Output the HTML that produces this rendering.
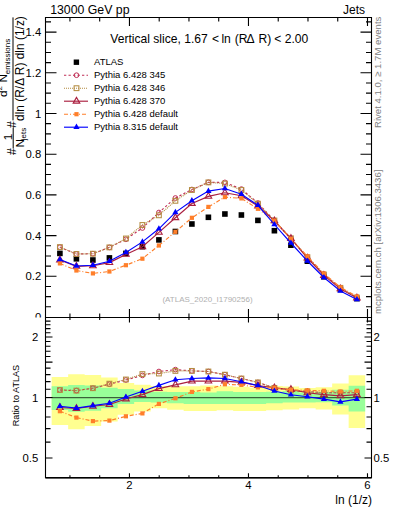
<!DOCTYPE html><html><head><meta charset="utf-8"><style>html,body{margin:0;padding:0;background:#fff;overflow:hidden}svg,svg text{font-family:"Liberation Sans",sans-serif}</style></head><body><svg width="393" height="512" viewBox="0 0 393 512" style="display:block">
<rect width="393" height="512" fill="#fff"/>
<text x="50.2" y="13.7" font-size="12.3" >13000 GeV pp</text>
<text x="365" y="13.7" font-size="12" text-anchor="end" >Jets</text>
<text x="41.3" y="36.20" font-size="11.3" text-anchor="end" >1.4</text>
<text x="41.3" y="76.90" font-size="11.3" text-anchor="end" >1.2</text>
<text x="41.3" y="117.60" font-size="11.3" text-anchor="end" >1</text>
<text x="41.3" y="158.30" font-size="11.3" text-anchor="end" >0.8</text>
<text x="41.3" y="199.00" font-size="11.3" text-anchor="end" >0.6</text>
<text x="41.3" y="239.70" font-size="11.3" text-anchor="end" >0.4</text>
<text x="41.3" y="280.40" font-size="11.3" text-anchor="end" >0.2</text>
<text x="41.3" y="321.10" font-size="11.3" text-anchor="end" >0</text>
<g>
<rect x="57.10" y="250.60" width="5.6" height="5.6" fill="#000"/>
<rect x="73.60" y="256.00" width="5.6" height="5.6" fill="#000"/>
<rect x="90.10" y="257.20" width="5.6" height="5.6" fill="#000"/>
<rect x="106.60" y="255.10" width="5.6" height="5.6" fill="#000"/>
<rect x="123.10" y="250.60" width="5.6" height="5.6" fill="#000"/>
<rect x="139.60" y="243.90" width="5.6" height="5.6" fill="#000"/>
<rect x="156.10" y="237.10" width="5.6" height="5.6" fill="#000"/>
<rect x="172.60" y="228.70" width="5.6" height="5.6" fill="#000"/>
<rect x="189.10" y="221.20" width="5.6" height="5.6" fill="#000"/>
<rect x="205.60" y="214.50" width="5.6" height="5.6" fill="#000"/>
<rect x="222.10" y="211.20" width="5.6" height="5.6" fill="#000"/>
<rect x="238.60" y="212.20" width="5.6" height="5.6" fill="#000"/>
<rect x="255.10" y="217.60" width="5.6" height="5.6" fill="#000"/>
<rect x="271.60" y="227.90" width="5.6" height="5.6" fill="#000"/>
<rect x="288.10" y="242.40" width="5.6" height="5.6" fill="#000"/>
<rect x="304.60" y="258.40" width="5.6" height="5.6" fill="#000"/>
<rect x="321.10" y="274.00" width="5.6" height="5.6" fill="#000"/>
<rect x="337.60" y="286.60" width="5.6" height="5.6" fill="#000"/>
<rect x="354.10" y="295.80" width="5.6" height="5.6" fill="#000"/>
<polyline points="59.90,247.20 76.40,254.00 92.90,253.70 109.40,247.40 125.90,239.30 142.40,228.00 158.90,212.50 175.40,198.00 191.90,189.50 208.40,182.30 224.90,182.40 241.40,189.10 257.90,203.00 274.40,220.67 290.90,239.12 307.40,257.23 323.90,274.53 340.40,287.84 356.90,297.56" fill="none" stroke="#c02d55" stroke-width="1.15" stroke-dasharray="2.3,2.2"/>
<circle cx="59.90" cy="247.20" r="2.35" fill="none" stroke="#c02d55" stroke-width="1.0"/>
<circle cx="76.40" cy="254.00" r="2.35" fill="none" stroke="#c02d55" stroke-width="1.0"/>
<circle cx="92.90" cy="253.70" r="2.35" fill="none" stroke="#c02d55" stroke-width="1.0"/>
<circle cx="109.40" cy="247.40" r="2.35" fill="none" stroke="#c02d55" stroke-width="1.0"/>
<circle cx="125.90" cy="239.30" r="2.35" fill="none" stroke="#c02d55" stroke-width="1.0"/>
<circle cx="142.40" cy="228.00" r="2.35" fill="none" stroke="#c02d55" stroke-width="1.0"/>
<circle cx="158.90" cy="212.50" r="2.35" fill="none" stroke="#c02d55" stroke-width="1.0"/>
<circle cx="175.40" cy="198.00" r="2.35" fill="none" stroke="#c02d55" stroke-width="1.0"/>
<circle cx="191.90" cy="189.50" r="2.35" fill="none" stroke="#c02d55" stroke-width="1.0"/>
<circle cx="208.40" cy="182.30" r="2.35" fill="none" stroke="#c02d55" stroke-width="1.0"/>
<circle cx="224.90" cy="182.40" r="2.35" fill="none" stroke="#c02d55" stroke-width="1.0"/>
<circle cx="241.40" cy="189.10" r="2.35" fill="none" stroke="#c02d55" stroke-width="1.0"/>
<circle cx="257.90" cy="203.00" r="2.35" fill="none" stroke="#c02d55" stroke-width="1.0"/>
<circle cx="274.40" cy="220.67" r="2.35" fill="none" stroke="#c02d55" stroke-width="1.0"/>
<circle cx="290.90" cy="239.12" r="2.35" fill="none" stroke="#c02d55" stroke-width="1.0"/>
<circle cx="307.40" cy="257.23" r="2.35" fill="none" stroke="#c02d55" stroke-width="1.0"/>
<circle cx="323.90" cy="274.53" r="2.35" fill="none" stroke="#c02d55" stroke-width="1.0"/>
<circle cx="340.40" cy="287.84" r="2.35" fill="none" stroke="#c02d55" stroke-width="1.0"/>
<circle cx="356.90" cy="297.56" r="2.35" fill="none" stroke="#c02d55" stroke-width="1.0"/>
<polyline points="59.90,247.10 76.40,254.00 92.90,253.70 109.40,247.40 125.90,238.50 142.40,225.00 158.90,215.30 175.40,200.80 191.90,190.00 208.40,182.40 224.90,183.60 241.40,190.00 257.90,203.70 274.40,220.50 290.90,238.30 307.40,257.23 323.90,274.53 340.40,287.84 356.90,297.56" fill="none" stroke="#b48c40" stroke-width="1.15" stroke-dasharray="1,1"/>
<rect x="57.50" y="244.70" width="4.8" height="4.8" fill="none" stroke="#b48c40" stroke-width="1.05"/>
<rect x="74.00" y="251.60" width="4.8" height="4.8" fill="none" stroke="#b48c40" stroke-width="1.05"/>
<rect x="90.50" y="251.30" width="4.8" height="4.8" fill="none" stroke="#b48c40" stroke-width="1.05"/>
<rect x="107.00" y="245.00" width="4.8" height="4.8" fill="none" stroke="#b48c40" stroke-width="1.05"/>
<rect x="123.50" y="236.10" width="4.8" height="4.8" fill="none" stroke="#b48c40" stroke-width="1.05"/>
<rect x="140.00" y="222.60" width="4.8" height="4.8" fill="none" stroke="#b48c40" stroke-width="1.05"/>
<rect x="156.50" y="212.90" width="4.8" height="4.8" fill="none" stroke="#b48c40" stroke-width="1.05"/>
<rect x="173.00" y="198.40" width="4.8" height="4.8" fill="none" stroke="#b48c40" stroke-width="1.05"/>
<rect x="189.50" y="187.60" width="4.8" height="4.8" fill="none" stroke="#b48c40" stroke-width="1.05"/>
<rect x="206.00" y="180.00" width="4.8" height="4.8" fill="none" stroke="#b48c40" stroke-width="1.05"/>
<rect x="222.50" y="181.20" width="4.8" height="4.8" fill="none" stroke="#b48c40" stroke-width="1.05"/>
<rect x="239.00" y="187.60" width="4.8" height="4.8" fill="none" stroke="#b48c40" stroke-width="1.05"/>
<rect x="255.50" y="201.30" width="4.8" height="4.8" fill="none" stroke="#b48c40" stroke-width="1.05"/>
<rect x="272.00" y="218.10" width="4.8" height="4.8" fill="none" stroke="#b48c40" stroke-width="1.05"/>
<rect x="288.50" y="235.90" width="4.8" height="4.8" fill="none" stroke="#b48c40" stroke-width="1.05"/>
<rect x="305.00" y="254.83" width="4.8" height="4.8" fill="none" stroke="#b48c40" stroke-width="1.05"/>
<rect x="321.50" y="272.13" width="4.8" height="4.8" fill="none" stroke="#b48c40" stroke-width="1.05"/>
<rect x="338.00" y="285.44" width="4.8" height="4.8" fill="none" stroke="#b48c40" stroke-width="1.05"/>
<rect x="354.50" y="295.16" width="4.8" height="4.8" fill="none" stroke="#b48c40" stroke-width="1.05"/>
<polyline points="59.90,260.00 76.40,266.30 92.90,265.80 109.40,262.60 125.90,254.40 142.40,246.80 158.90,232.40 175.40,217.70 191.90,203.50 208.40,196.40 224.90,192.80 241.40,195.80 257.90,206.00 274.40,220.80 290.90,238.50 307.40,258.11 323.90,275.44 340.40,288.89 356.90,297.98" fill="none" stroke="#aa1f3f" stroke-width="1.15"/>
<polygon points="59.90,256.19 56.60,261.91 63.20,261.91" fill="none" stroke="#aa1f3f" stroke-width="1.1"/>
<polygon points="76.40,262.49 73.10,268.21 79.70,268.21" fill="none" stroke="#aa1f3f" stroke-width="1.1"/>
<polygon points="92.90,261.99 89.60,267.71 96.20,267.71" fill="none" stroke="#aa1f3f" stroke-width="1.1"/>
<polygon points="109.40,258.79 106.10,264.51 112.70,264.51" fill="none" stroke="#aa1f3f" stroke-width="1.1"/>
<polygon points="125.90,250.59 122.60,256.31 129.20,256.31" fill="none" stroke="#aa1f3f" stroke-width="1.1"/>
<polygon points="142.40,242.99 139.10,248.71 145.70,248.71" fill="none" stroke="#aa1f3f" stroke-width="1.1"/>
<polygon points="158.90,228.59 155.60,234.31 162.20,234.31" fill="none" stroke="#aa1f3f" stroke-width="1.1"/>
<polygon points="175.40,213.89 172.10,219.61 178.70,219.61" fill="none" stroke="#aa1f3f" stroke-width="1.1"/>
<polygon points="191.90,199.69 188.60,205.41 195.20,205.41" fill="none" stroke="#aa1f3f" stroke-width="1.1"/>
<polygon points="208.40,192.59 205.10,198.31 211.70,198.31" fill="none" stroke="#aa1f3f" stroke-width="1.1"/>
<polygon points="224.90,188.99 221.60,194.71 228.20,194.71" fill="none" stroke="#aa1f3f" stroke-width="1.1"/>
<polygon points="241.40,191.99 238.10,197.71 244.70,197.71" fill="none" stroke="#aa1f3f" stroke-width="1.1"/>
<polygon points="257.90,202.19 254.60,207.91 261.20,207.91" fill="none" stroke="#aa1f3f" stroke-width="1.1"/>
<polygon points="274.40,216.99 271.10,222.71 277.70,222.71" fill="none" stroke="#aa1f3f" stroke-width="1.1"/>
<polygon points="290.90,234.69 287.60,240.41 294.20,240.41" fill="none" stroke="#aa1f3f" stroke-width="1.1"/>
<polygon points="307.40,254.30 304.10,260.02 310.70,260.02" fill="none" stroke="#aa1f3f" stroke-width="1.1"/>
<polygon points="323.90,271.63 320.60,277.35 327.20,277.35" fill="none" stroke="#aa1f3f" stroke-width="1.1"/>
<polygon points="340.40,285.08 337.10,290.79 343.70,290.79" fill="none" stroke="#aa1f3f" stroke-width="1.1"/>
<polygon points="356.90,294.17 353.60,299.88 360.20,299.88" fill="none" stroke="#aa1f3f" stroke-width="1.1"/>
<polyline points="59.90,263.40 76.40,270.50 92.90,273.40 109.40,271.50 125.90,265.20 142.40,258.70 158.90,245.50 175.40,231.80 191.90,217.80 208.40,206.90 224.90,197.10 241.40,198.40 257.90,208.80 274.40,220.70 290.90,238.90 307.40,256.30 323.90,273.60 340.40,287.30 356.90,296.50" fill="none" stroke="#ff7f2a" stroke-width="1.15" stroke-dasharray="4,2,1,2"/>
<rect x="57.80" y="261.30" width="4.2" height="4.2" fill="#ff7f2a"/>
<rect x="74.30" y="268.40" width="4.2" height="4.2" fill="#ff7f2a"/>
<rect x="90.80" y="271.30" width="4.2" height="4.2" fill="#ff7f2a"/>
<rect x="107.30" y="269.40" width="4.2" height="4.2" fill="#ff7f2a"/>
<rect x="123.80" y="263.10" width="4.2" height="4.2" fill="#ff7f2a"/>
<rect x="140.30" y="256.60" width="4.2" height="4.2" fill="#ff7f2a"/>
<rect x="156.80" y="243.40" width="4.2" height="4.2" fill="#ff7f2a"/>
<rect x="173.30" y="229.70" width="4.2" height="4.2" fill="#ff7f2a"/>
<rect x="189.80" y="215.70" width="4.2" height="4.2" fill="#ff7f2a"/>
<rect x="206.30" y="204.80" width="4.2" height="4.2" fill="#ff7f2a"/>
<rect x="222.80" y="195.00" width="4.2" height="4.2" fill="#ff7f2a"/>
<rect x="239.30" y="196.30" width="4.2" height="4.2" fill="#ff7f2a"/>
<rect x="255.80" y="206.70" width="4.2" height="4.2" fill="#ff7f2a"/>
<rect x="272.30" y="218.60" width="4.2" height="4.2" fill="#ff7f2a"/>
<rect x="288.80" y="236.80" width="4.2" height="4.2" fill="#ff7f2a"/>
<rect x="305.30" y="254.20" width="4.2" height="4.2" fill="#ff7f2a"/>
<rect x="321.80" y="271.50" width="4.2" height="4.2" fill="#ff7f2a"/>
<rect x="338.30" y="285.20" width="4.2" height="4.2" fill="#ff7f2a"/>
<rect x="354.80" y="294.40" width="4.2" height="4.2" fill="#ff7f2a"/>
<polyline points="59.90,259.50 76.40,266.00 92.90,265.20 109.40,261.30 125.90,252.40 142.40,241.90 158.90,228.80 175.40,212.40 191.90,200.70 208.40,191.10 224.90,188.50 241.40,194.20 257.90,205.30 274.40,224.50 290.90,243.00 307.40,261.00 323.90,277.50 340.40,291.00 356.90,299.50" fill="none" stroke="#0000ff" stroke-width="1.15"/>
<polygon points="59.90,255.92 56.80,261.29 63.00,261.29" fill="#0000ff"/>
<polygon points="76.40,262.42 73.30,267.79 79.50,267.79" fill="#0000ff"/>
<polygon points="92.90,261.62 89.80,266.99 96.00,266.99" fill="#0000ff"/>
<polygon points="109.40,257.72 106.30,263.09 112.50,263.09" fill="#0000ff"/>
<polygon points="125.90,248.82 122.80,254.19 129.00,254.19" fill="#0000ff"/>
<polygon points="142.40,238.32 139.30,243.69 145.50,243.69" fill="#0000ff"/>
<polygon points="158.90,225.22 155.80,230.59 162.00,230.59" fill="#0000ff"/>
<polygon points="175.40,208.82 172.30,214.19 178.50,214.19" fill="#0000ff"/>
<polygon points="191.90,197.12 188.80,202.49 195.00,202.49" fill="#0000ff"/>
<polygon points="208.40,187.52 205.30,192.89 211.50,192.89" fill="#0000ff"/>
<polygon points="224.90,184.92 221.80,190.29 228.00,190.29" fill="#0000ff"/>
<polygon points="241.40,190.62 238.30,195.99 244.50,195.99" fill="#0000ff"/>
<polygon points="257.90,201.72 254.80,207.09 261.00,207.09" fill="#0000ff"/>
<polygon points="274.40,220.92 271.30,226.29 277.50,226.29" fill="#0000ff"/>
<polygon points="290.90,239.42 287.80,244.79 294.00,244.79" fill="#0000ff"/>
<polygon points="307.40,257.42 304.30,262.79 310.50,262.79" fill="#0000ff"/>
<polygon points="323.90,273.92 320.80,279.29 327.00,279.29" fill="#0000ff"/>
<polygon points="340.40,287.42 337.30,292.79 343.50,292.79" fill="#0000ff"/>
<polygon points="356.90,295.92 353.80,301.29 360.00,301.29" fill="#0000ff"/>
</g>
<text x="207.5" y="302.0" font-size="8" text-anchor="middle" fill="#b0b0b0" >(ATLAS_2020_I1790256)</text>
<text x="94" y="64.90" font-size="9.5" >ATLAS</text>
<rect x="73.70" y="59.50" width="5.4" height="5.4" fill="#000"/>
<text x="94" y="77.90" font-size="9.5" >Pythia 6.428 345</text>
<line x1="64" y1="75.20" x2="88" y2="75.20" stroke="#c02d55" stroke-width="1.15" stroke-dasharray="2.3,2.2"/>
<circle cx="76.50" cy="75.20" r="2.35" fill="none" stroke="#c02d55" stroke-width="1.0"/>
<text x="94" y="90.90" font-size="9.5" >Pythia 6.428 346</text>
<line x1="64" y1="88.20" x2="88" y2="88.20" stroke="#b48c40" stroke-width="1.15" stroke-dasharray="1,1"/>
<rect x="74.10" y="85.80" width="4.8" height="4.8" fill="none" stroke="#b48c40" stroke-width="1.05"/>
<text x="94" y="103.90" font-size="9.5" >Pythia 6.428 370</text>
<line x1="64" y1="101.20" x2="88" y2="101.20" stroke="#aa1f3f" stroke-width="1.15"/>
<polygon points="76.50,97.39 73.20,103.11 79.80,103.11" fill="none" stroke="#aa1f3f" stroke-width="1.1"/>
<text x="94" y="116.90" font-size="9.5" >Pythia 6.428 default</text>
<line x1="64" y1="114.20" x2="88" y2="114.20" stroke="#ff7f2a" stroke-width="1.15" stroke-dasharray="4,2,1,2"/>
<rect x="74.40" y="112.10" width="4.2" height="4.2" fill="#ff7f2a"/>
<text x="94" y="129.90" font-size="9.5" >Pythia 8.315 default</text>
<line x1="64" y1="127.20" x2="88" y2="127.20" stroke="#0000ff" stroke-width="1.15"/>
<polygon points="76.50,123.62 73.40,128.99 79.60,128.99" fill="#0000ff"/>
<text y="42.8" font-size="12.1" ><tspan x="110.3">Vertical slice, 1.67</tspan><tspan x="212.0">&lt;</tspan><tspan x="221.4">ln</tspan><tspan x="234.8">(R</tspan><tspan x="246.6">Δ</tspan><tspan x="258.5">R)</tspan><tspan x="274.3">&lt;</tspan><tspan x="284.7">2.00</tspan></text>
<path d="M45.5,17.5 H371.5 V317.5 H45.5 Z M45.5,306.82 h5.5 M371.5,306.82 h-5.5 M45.5,296.65 h5.5 M371.5,296.65 h-5.5 M45.5,286.48 h5.5 M371.5,286.48 h-5.5 M45.5,276.30 h11 M371.5,276.30 h-11 M45.5,266.12 h5.5 M371.5,266.12 h-5.5 M45.5,255.95 h5.5 M371.5,255.95 h-5.5 M45.5,245.77 h5.5 M371.5,245.77 h-5.5 M45.5,235.60 h11 M371.5,235.60 h-11 M45.5,225.43 h5.5 M371.5,225.43 h-5.5 M45.5,215.25 h5.5 M371.5,215.25 h-5.5 M45.5,205.07 h5.5 M371.5,205.07 h-5.5 M45.5,194.90 h11 M371.5,194.90 h-11 M45.5,184.72 h5.5 M371.5,184.72 h-5.5 M45.5,174.55 h5.5 M371.5,174.55 h-5.5 M45.5,164.38 h5.5 M371.5,164.38 h-5.5 M45.5,154.20 h11 M371.5,154.20 h-11 M45.5,144.02 h5.5 M371.5,144.02 h-5.5 M45.5,133.85 h5.5 M371.5,133.85 h-5.5 M45.5,123.67 h5.5 M371.5,123.67 h-5.5 M45.5,113.50 h11 M371.5,113.50 h-11 M45.5,103.32 h5.5 M371.5,103.32 h-5.5 M45.5,93.15 h5.5 M371.5,93.15 h-5.5 M45.5,82.97 h5.5 M371.5,82.97 h-5.5 M45.5,72.80 h11 M371.5,72.80 h-11 M45.5,62.62 h5.5 M371.5,62.62 h-5.5 M45.5,52.45 h5.5 M371.5,52.45 h-5.5 M45.5,42.27 h5.5 M371.5,42.27 h-5.5 M45.5,32.10 h11 M371.5,32.10 h-11 M45.5,21.92 h5.5 M371.5,21.92 h-5.5 M69.94,17.5 v4 M69.94,317.5 v-4 M99.69,17.5 v4 M99.69,317.5 v-4 M129.45,17.5 v8.5 M129.45,317.5 v-8.5 M159.20,17.5 v4 M159.20,317.5 v-4 M188.96,17.5 v4 M188.96,317.5 v-4 M218.71,17.5 v4 M218.71,317.5 v-4 M248.47,17.5 v8.5 M248.47,317.5 v-8.5 M278.23,17.5 v4 M278.23,317.5 v-4 M307.98,17.5 v4 M307.98,317.5 v-4 M337.74,17.5 v4 M337.74,317.5 v-4 M367.49,17.5 v8.5 M367.49,317.5 v-8.5" fill="none" stroke="#000" stroke-width="1.1"/>
<rect x="0" y="317.5" width="393" height="160.5" fill="#fff"/>
<path d="M51.65,377.00 L68.15,377.00 L68.15,374.20 L84.65,374.20 L84.65,375.00 L101.15,375.00 L101.15,377.50 L117.65,377.50 L117.65,382.90 L134.15,382.90 L134.15,384.80 L150.65,384.80 L150.65,386.10 L167.15,386.10 L167.15,386.20 L183.65,386.20 L183.65,386.20 L200.15,386.20 L200.15,385.50 L216.65,385.50 L216.65,386.20 L233.15,386.20 L233.15,386.80 L249.65,386.80 L249.65,388.10 L266.15,388.10 L266.15,386.00 L282.65,386.00 L282.65,386.60 L299.15,386.60 L299.15,387.90 L315.65,387.90 L315.65,387.30 L332.15,387.30 L332.15,383.40 L348.65,383.40 L348.65,375.20 L365.15,375.20 L365.15,427.90 L348.65,427.90 L348.65,414.60 L332.15,414.60 L332.15,409.40 L315.65,409.40 L315.65,408.30 L299.15,408.30 L299.15,409.50 L282.65,409.50 L282.65,410.20 L266.15,410.20 L266.15,411.00 L249.65,411.00 L249.65,411.00 L233.15,411.00 L233.15,410.30 L216.65,410.30 L216.65,411.00 L200.15,411.00 L200.15,411.00 L183.65,411.00 L183.65,409.70 L167.15,409.70 L167.15,408.30 L150.65,408.30 L150.65,411.50 L134.15,411.50 L134.15,414.70 L117.65,414.70 L117.65,421.60 L101.15,421.60 L101.15,426.10 L84.65,426.10 L84.65,429.30 L68.15,429.30 L68.15,425.10 L51.65,425.10 Z" fill="#ffff90"/>
<path d="M51.65,386.30 L68.15,386.30 L68.15,385.10 L84.65,385.10 L84.65,385.50 L101.15,385.50 L101.15,387.70 L117.65,387.70 L117.65,389.00 L134.15,389.00 L134.15,390.50 L150.65,390.50 L150.65,391.80 L167.15,391.80 L167.15,391.90 L183.65,391.90 L183.65,391.90 L200.15,391.90 L200.15,392.50 L216.65,392.50 L216.65,391.30 L233.15,391.30 L233.15,391.90 L249.65,391.90 L249.65,391.90 L266.15,391.90 L266.15,391.70 L282.65,391.70 L282.65,391.10 L299.15,391.10 L299.15,392.40 L315.65,392.40 L315.65,392.10 L332.15,392.10 L332.15,389.70 L348.65,389.70 L348.65,385.80 L365.15,385.80 L365.15,411.50 L348.65,411.50 L348.65,405.50 L332.15,405.50 L332.15,402.30 L315.65,402.30 L315.65,402.50 L299.15,402.50 L299.15,402.50 L282.65,402.50 L282.65,403.20 L266.15,403.20 L266.15,404.00 L249.65,404.00 L249.65,404.00 L233.15,404.00 L233.15,404.00 L216.65,404.00 L216.65,404.00 L200.15,404.00 L200.15,404.00 L183.65,404.00 L183.65,403.30 L167.15,403.30 L167.15,402.60 L150.65,402.60 L150.65,402.00 L134.15,402.00 L134.15,403.90 L117.65,403.90 L117.65,408.30 L101.15,408.30 L101.15,410.80 L84.65,410.80 L84.65,411.80 L68.15,411.80 L68.15,410.00 L51.65,410.00 Z" fill="#99ff99"/>
<line x1="45.5" y1="397.6" x2="371.5" y2="397.6" stroke="#000" stroke-opacity="0.62" stroke-width="1.3"/>
<polyline points="59.90,390.00 76.40,390.60 92.90,388.20 109.40,384.20 125.90,380.00 142.40,375.40 158.90,371.50 175.40,369.60 191.90,370.90 208.40,371.50 224.90,374.70 241.40,378.50 257.90,382.40 274.40,387.90 290.90,390.40 307.40,391.50 323.90,392.70 340.40,392.70 356.90,392.70" fill="none" stroke="#c02d55" stroke-width="1.15" stroke-dasharray="2.3,2.2"/>
<circle cx="59.90" cy="390.00" r="2.35" fill="none" stroke="#c02d55" stroke-width="1.0"/>
<circle cx="76.40" cy="390.60" r="2.35" fill="none" stroke="#c02d55" stroke-width="1.0"/>
<circle cx="92.90" cy="388.20" r="2.35" fill="none" stroke="#c02d55" stroke-width="1.0"/>
<circle cx="109.40" cy="384.20" r="2.35" fill="none" stroke="#c02d55" stroke-width="1.0"/>
<circle cx="125.90" cy="380.00" r="2.35" fill="none" stroke="#c02d55" stroke-width="1.0"/>
<circle cx="142.40" cy="375.40" r="2.35" fill="none" stroke="#c02d55" stroke-width="1.0"/>
<circle cx="158.90" cy="371.50" r="2.35" fill="none" stroke="#c02d55" stroke-width="1.0"/>
<circle cx="175.40" cy="369.60" r="2.35" fill="none" stroke="#c02d55" stroke-width="1.0"/>
<circle cx="191.90" cy="370.90" r="2.35" fill="none" stroke="#c02d55" stroke-width="1.0"/>
<circle cx="208.40" cy="371.50" r="2.35" fill="none" stroke="#c02d55" stroke-width="1.0"/>
<circle cx="224.90" cy="374.70" r="2.35" fill="none" stroke="#c02d55" stroke-width="1.0"/>
<circle cx="241.40" cy="378.50" r="2.35" fill="none" stroke="#c02d55" stroke-width="1.0"/>
<circle cx="257.90" cy="382.40" r="2.35" fill="none" stroke="#c02d55" stroke-width="1.0"/>
<circle cx="274.40" cy="387.90" r="2.35" fill="none" stroke="#c02d55" stroke-width="1.0"/>
<circle cx="290.90" cy="390.40" r="2.35" fill="none" stroke="#c02d55" stroke-width="1.0"/>
<circle cx="307.40" cy="391.50" r="2.35" fill="none" stroke="#c02d55" stroke-width="1.0"/>
<circle cx="323.90" cy="392.70" r="2.35" fill="none" stroke="#c02d55" stroke-width="1.0"/>
<circle cx="340.40" cy="392.70" r="2.35" fill="none" stroke="#c02d55" stroke-width="1.0"/>
<circle cx="356.90" cy="392.70" r="2.35" fill="none" stroke="#c02d55" stroke-width="1.0"/>
<polyline points="59.90,390.00 76.40,390.60 92.90,388.20 109.40,383.70 125.90,379.50 142.40,374.10 158.90,373.50 175.40,370.90 191.90,370.90 208.40,371.50 224.90,374.70 241.40,378.50 257.90,382.40 274.40,387.90 290.90,390.40 307.40,391.50 323.90,392.70 340.40,392.70 356.90,392.70" fill="none" stroke="#b48c40" stroke-width="1.15" stroke-dasharray="1,1"/>
<rect x="57.50" y="387.60" width="4.8" height="4.8" fill="none" stroke="#b48c40" stroke-width="1.05"/>
<rect x="74.00" y="388.20" width="4.8" height="4.8" fill="none" stroke="#b48c40" stroke-width="1.05"/>
<rect x="90.50" y="385.80" width="4.8" height="4.8" fill="none" stroke="#b48c40" stroke-width="1.05"/>
<rect x="107.00" y="381.30" width="4.8" height="4.8" fill="none" stroke="#b48c40" stroke-width="1.05"/>
<rect x="123.50" y="377.10" width="4.8" height="4.8" fill="none" stroke="#b48c40" stroke-width="1.05"/>
<rect x="140.00" y="371.70" width="4.8" height="4.8" fill="none" stroke="#b48c40" stroke-width="1.05"/>
<rect x="156.50" y="371.10" width="4.8" height="4.8" fill="none" stroke="#b48c40" stroke-width="1.05"/>
<rect x="173.00" y="368.50" width="4.8" height="4.8" fill="none" stroke="#b48c40" stroke-width="1.05"/>
<rect x="189.50" y="368.50" width="4.8" height="4.8" fill="none" stroke="#b48c40" stroke-width="1.05"/>
<rect x="206.00" y="369.10" width="4.8" height="4.8" fill="none" stroke="#b48c40" stroke-width="1.05"/>
<rect x="222.50" y="372.30" width="4.8" height="4.8" fill="none" stroke="#b48c40" stroke-width="1.05"/>
<rect x="239.00" y="376.10" width="4.8" height="4.8" fill="none" stroke="#b48c40" stroke-width="1.05"/>
<rect x="255.50" y="380.00" width="4.8" height="4.8" fill="none" stroke="#b48c40" stroke-width="1.05"/>
<rect x="272.00" y="385.50" width="4.8" height="4.8" fill="none" stroke="#b48c40" stroke-width="1.05"/>
<rect x="288.50" y="388.00" width="4.8" height="4.8" fill="none" stroke="#b48c40" stroke-width="1.05"/>
<rect x="305.00" y="389.10" width="4.8" height="4.8" fill="none" stroke="#b48c40" stroke-width="1.05"/>
<rect x="321.50" y="390.30" width="4.8" height="4.8" fill="none" stroke="#b48c40" stroke-width="1.05"/>
<rect x="338.00" y="390.30" width="4.8" height="4.8" fill="none" stroke="#b48c40" stroke-width="1.05"/>
<rect x="354.50" y="390.30" width="4.8" height="4.8" fill="none" stroke="#b48c40" stroke-width="1.05"/>
<polyline points="59.90,407.50 76.40,408.50 92.90,406.30 109.40,404.50 125.90,399.00 142.40,394.60 158.90,388.60 175.40,384.90 191.90,381.10 208.40,381.10 224.90,381.10 241.40,382.40 257.90,385.50 274.40,387.90 290.90,389.50 307.40,392.80 323.90,394.60 340.40,395.90 356.90,394.60" fill="none" stroke="#aa1f3f" stroke-width="1.15"/>
<polygon points="59.90,403.69 56.60,409.41 63.20,409.41" fill="none" stroke="#aa1f3f" stroke-width="1.1"/>
<polygon points="76.40,404.69 73.10,410.41 79.70,410.41" fill="none" stroke="#aa1f3f" stroke-width="1.1"/>
<polygon points="92.90,402.49 89.60,408.21 96.20,408.21" fill="none" stroke="#aa1f3f" stroke-width="1.1"/>
<polygon points="109.40,400.69 106.10,406.41 112.70,406.41" fill="none" stroke="#aa1f3f" stroke-width="1.1"/>
<polygon points="125.90,395.19 122.60,400.91 129.20,400.91" fill="none" stroke="#aa1f3f" stroke-width="1.1"/>
<polygon points="142.40,390.79 139.10,396.51 145.70,396.51" fill="none" stroke="#aa1f3f" stroke-width="1.1"/>
<polygon points="158.90,384.79 155.60,390.51 162.20,390.51" fill="none" stroke="#aa1f3f" stroke-width="1.1"/>
<polygon points="175.40,381.09 172.10,386.81 178.70,386.81" fill="none" stroke="#aa1f3f" stroke-width="1.1"/>
<polygon points="191.90,377.29 188.60,383.01 195.20,383.01" fill="none" stroke="#aa1f3f" stroke-width="1.1"/>
<polygon points="208.40,377.29 205.10,383.01 211.70,383.01" fill="none" stroke="#aa1f3f" stroke-width="1.1"/>
<polygon points="224.90,377.29 221.60,383.01 228.20,383.01" fill="none" stroke="#aa1f3f" stroke-width="1.1"/>
<polygon points="241.40,378.59 238.10,384.31 244.70,384.31" fill="none" stroke="#aa1f3f" stroke-width="1.1"/>
<polygon points="257.90,381.69 254.60,387.41 261.20,387.41" fill="none" stroke="#aa1f3f" stroke-width="1.1"/>
<polygon points="274.40,384.09 271.10,389.81 277.70,389.81" fill="none" stroke="#aa1f3f" stroke-width="1.1"/>
<polygon points="290.90,385.69 287.60,391.41 294.20,391.41" fill="none" stroke="#aa1f3f" stroke-width="1.1"/>
<polygon points="307.40,388.99 304.10,394.71 310.70,394.71" fill="none" stroke="#aa1f3f" stroke-width="1.1"/>
<polygon points="323.90,390.79 320.60,396.51 327.20,396.51" fill="none" stroke="#aa1f3f" stroke-width="1.1"/>
<polygon points="340.40,392.09 337.10,397.81 343.70,397.81" fill="none" stroke="#aa1f3f" stroke-width="1.1"/>
<polygon points="356.90,390.79 353.60,396.51 360.20,396.51" fill="none" stroke="#aa1f3f" stroke-width="1.1"/>
<polyline points="59.90,411.20 76.40,417.60 92.90,421.10 109.40,420.60 125.90,416.30 142.40,413.40 158.90,403.90 175.40,398.30 191.90,391.90 208.40,389.10 224.90,384.30 241.40,384.90 257.90,387.40 274.40,387.70 290.90,389.80 307.40,390.40 323.90,390.80 340.40,391.50 356.90,390.80" fill="none" stroke="#ff7f2a" stroke-width="1.15" stroke-dasharray="4,2,1,2"/>
<rect x="57.80" y="409.10" width="4.2" height="4.2" fill="#ff7f2a"/>
<rect x="74.30" y="415.50" width="4.2" height="4.2" fill="#ff7f2a"/>
<rect x="90.80" y="419.00" width="4.2" height="4.2" fill="#ff7f2a"/>
<rect x="107.30" y="418.50" width="4.2" height="4.2" fill="#ff7f2a"/>
<rect x="123.80" y="414.20" width="4.2" height="4.2" fill="#ff7f2a"/>
<rect x="140.30" y="411.30" width="4.2" height="4.2" fill="#ff7f2a"/>
<rect x="156.80" y="401.80" width="4.2" height="4.2" fill="#ff7f2a"/>
<rect x="173.30" y="396.20" width="4.2" height="4.2" fill="#ff7f2a"/>
<rect x="189.80" y="389.80" width="4.2" height="4.2" fill="#ff7f2a"/>
<rect x="206.30" y="387.00" width="4.2" height="4.2" fill="#ff7f2a"/>
<rect x="222.80" y="382.20" width="4.2" height="4.2" fill="#ff7f2a"/>
<rect x="239.30" y="382.80" width="4.2" height="4.2" fill="#ff7f2a"/>
<rect x="255.80" y="385.30" width="4.2" height="4.2" fill="#ff7f2a"/>
<rect x="272.30" y="385.60" width="4.2" height="4.2" fill="#ff7f2a"/>
<rect x="288.80" y="387.70" width="4.2" height="4.2" fill="#ff7f2a"/>
<rect x="305.30" y="388.30" width="4.2" height="4.2" fill="#ff7f2a"/>
<rect x="321.80" y="388.70" width="4.2" height="4.2" fill="#ff7f2a"/>
<rect x="338.30" y="389.40" width="4.2" height="4.2" fill="#ff7f2a"/>
<rect x="354.80" y="388.70" width="4.2" height="4.2" fill="#ff7f2a"/>
<polyline points="59.90,406.30 76.40,408.10 92.90,405.60 109.40,403.30 125.90,397.00 142.40,391.30 158.90,385.40 175.40,379.80 191.90,378.50 208.40,377.90 224.90,378.50 241.40,381.70 257.90,385.50 274.40,391.00 290.90,394.80 307.40,396.70 323.90,399.10 340.40,401.90 356.90,399.10" fill="none" stroke="#0000ff" stroke-width="1.15"/>
<polygon points="59.90,402.72 56.80,408.09 63.00,408.09" fill="#0000ff"/>
<polygon points="76.40,404.52 73.30,409.89 79.50,409.89" fill="#0000ff"/>
<polygon points="92.90,402.02 89.80,407.39 96.00,407.39" fill="#0000ff"/>
<polygon points="109.40,399.72 106.30,405.09 112.50,405.09" fill="#0000ff"/>
<polygon points="125.90,393.42 122.80,398.79 129.00,398.79" fill="#0000ff"/>
<polygon points="142.40,387.72 139.30,393.09 145.50,393.09" fill="#0000ff"/>
<polygon points="158.90,381.82 155.80,387.19 162.00,387.19" fill="#0000ff"/>
<polygon points="175.40,376.22 172.30,381.59 178.50,381.59" fill="#0000ff"/>
<polygon points="191.90,374.92 188.80,380.29 195.00,380.29" fill="#0000ff"/>
<polygon points="208.40,374.32 205.30,379.69 211.50,379.69" fill="#0000ff"/>
<polygon points="224.90,374.92 221.80,380.29 228.00,380.29" fill="#0000ff"/>
<polygon points="241.40,378.12 238.30,383.49 244.50,383.49" fill="#0000ff"/>
<polygon points="257.90,381.92 254.80,387.29 261.00,387.29" fill="#0000ff"/>
<polygon points="274.40,387.42 271.30,392.79 277.50,392.79" fill="#0000ff"/>
<polygon points="290.90,391.22 287.80,396.59 294.00,396.59" fill="#0000ff"/>
<polygon points="307.40,393.12 304.30,398.49 310.50,398.49" fill="#0000ff"/>
<polygon points="323.90,395.52 320.80,400.89 327.00,400.89" fill="#0000ff"/>
<polygon points="340.40,398.32 337.30,403.69 343.50,403.69" fill="#0000ff"/>
<polygon points="356.90,395.52 353.80,400.89 360.00,400.89" fill="#0000ff"/>
<path d="M45.5,317.5 H371.5 V477.7 H45.5 Z M45.5,458.01 h7 M371.5,458.01 h-7 M45.5,397.50 h7 M371.5,397.50 h-7 M45.5,362.11 h7 M371.5,362.11 h-7 M45.5,336.99 h7 M371.5,336.99 h-7 M45.5,442.09 h5 M371.5,442.09 h-5 M45.5,428.64 h5 M371.5,428.64 h-5 M45.5,416.98 h5 M371.5,416.98 h-5 M45.5,406.70 h5 M371.5,406.70 h-5 M45.5,389.18 h5 M371.5,389.18 h-5 M45.5,381.58 h5 M371.5,381.58 h-5 M45.5,374.60 h5 M371.5,374.60 h-5 M45.5,368.13 h5 M371.5,368.13 h-5 M45.5,356.47 h5 M371.5,356.47 h-5 M45.5,351.18 h5 M371.5,351.18 h-5 M45.5,346.19 h5 M371.5,346.19 h-5 M45.5,341.47 h5 M371.5,341.47 h-5 M45.5,332.73 h5 M371.5,332.73 h-5 M45.5,328.67 h5 M371.5,328.67 h-5 M45.5,324.79 h5 M371.5,324.79 h-5 M45.5,321.08 h5 M371.5,321.08 h-5 M69.94,317.5 v2.5 M69.94,477.7 v-2.5 M99.69,317.5 v2.5 M99.69,477.7 v-2.5 M129.45,317.5 v5 M129.45,477.7 v-4.5 M159.20,317.5 v2.5 M159.20,477.7 v-2.5 M188.96,317.5 v2.5 M188.96,477.7 v-2.5 M218.71,317.5 v2.5 M218.71,477.7 v-2.5 M248.47,317.5 v5 M248.47,477.7 v-4.5 M278.23,317.5 v2.5 M278.23,477.7 v-2.5 M307.98,317.5 v2.5 M307.98,477.7 v-2.5 M337.74,317.5 v2.5 M337.74,477.7 v-2.5 M367.49,317.5 v5 M367.49,477.7 v-4.5" fill="none" stroke="#000" stroke-width="1.1"/>
<line x1="45.5" y1="477.7" x2="371.5" y2="477.7" stroke="#000" stroke-width="1.5"/>
<text x="38.3" y="341.09" font-size="11.3" text-anchor="end" >2</text>
<text x="373.5" y="341.09" font-size="11.3" >2</text>
<text x="38.3" y="401.60" font-size="11.3" text-anchor="end" >1</text>
<text x="373.5" y="401.60" font-size="11.3" >1</text>
<text x="38.3" y="462.11" font-size="11.3" text-anchor="end" >0.5</text>
<text x="373.5" y="462.11" font-size="11.3" >0.5</text>
<text x="129.45" y="488.5" font-size="11.3" text-anchor="middle" >2</text>
<text x="248.47" y="488.5" font-size="11.3" text-anchor="middle" >4</text>
<text x="367.49" y="488.5" font-size="11.3" text-anchor="middle" >6</text>
<text x="372" y="503.5" font-size="12" text-anchor="end" >ln (1/z)</text>
<text transform="translate(18.8,395.6) rotate(-90)" font-size="9.1" text-anchor="middle" >Ratio to ATLAS</text>
<text transform="translate(380.6,128.0) rotate(-90)" font-size="9.6" fill="#808080" >Rivet 4.1.0, ≥ 1.7M events</text>
<text transform="translate(381,314.0) rotate(-90)" font-size="9.55" fill="#808080" >mcplots.cern.ch [arXiv:1306.3436]</text>
<g transform="rotate(-90)" ><text x="-155.1" y="16.4" font-size="12.2">#</text><text x="-137" y="11.9" font-size="11.7" text-anchor="middle">1</text><line x1="-148.4" y1="13.2" x2="-127.8" y2="13.2" stroke="#000" stroke-width="1"/><text x="-147.4" y="23.7" font-size="11.7">N</text><text x="-140.3" y="26.3" font-size="8">jets</text><text x="-127.9" y="16.4" font-size="12.2">#</text><line x1="-120.4" y1="13" x2="-17.4" y2="13" stroke="#000" stroke-width="1"/><text x="-97.0" y="6.8" font-size="11.7">d</text><text x="-90.6" y="1.5" font-size="8">2</text><text x="-82.6" y="6.8" font-size="11.7">N</text><text x="-74.3" y="10.3" font-size="8">emissions</text><text x="-121.0" y="24" font-size="11.95">dln (R/Δ R) dln (1/z)</text></g>
</svg></body></html>
